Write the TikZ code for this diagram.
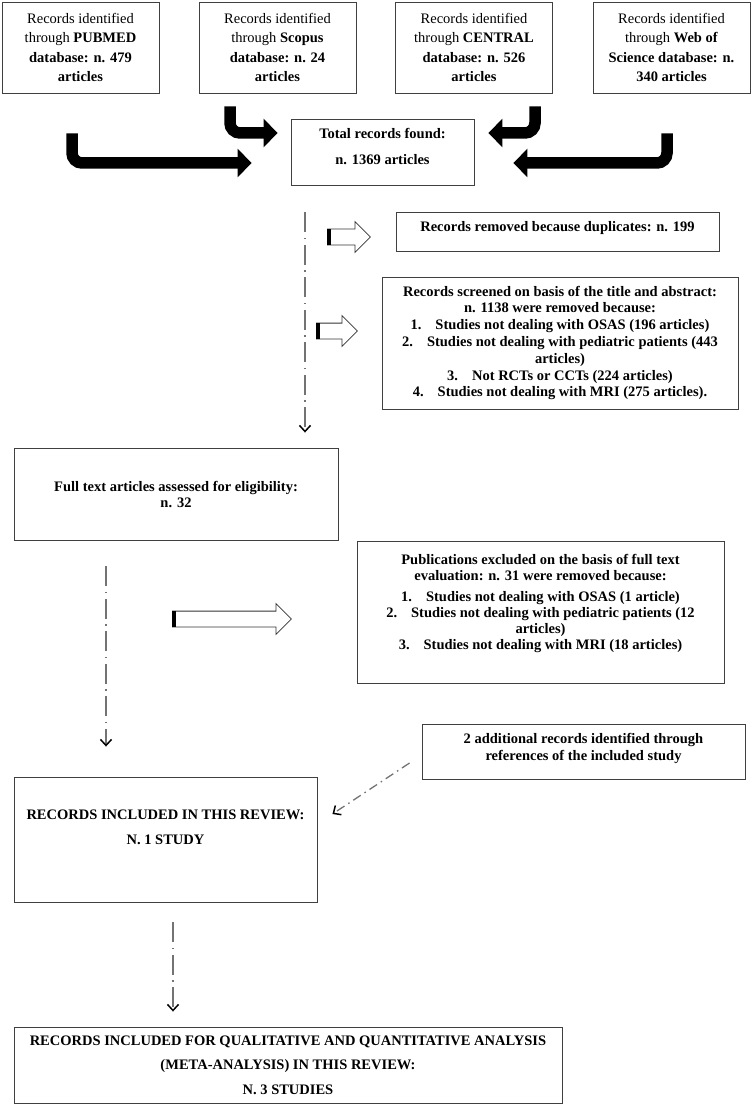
\documentclass[tikz,border=0pt]{standalone}
\usepackage{fontspec}
\setmainfont{Liberation Serif}
\usetikzlibrary{arrows.meta,positioning,shapes.arrows,calc}

\begin{document}
\begin{tikzpicture}[
  x=1pt, y=1pt,
  every node/.style={font=\fontsize{14.5}{16}\selectfont},
  box/.style={draw=black!75, line width=0.9pt, align=center, inner sep=2pt},
  src/.style={box, minimum width=157pt, minimum height=91pt, font=\fontsize{14.5}{19.5}\selectfont},
  bbox/.style={box, font=\bfseries\fontsize{14.5}{16}\selectfont},
  fatarrow/.style={line width=11.5pt, rounded corners=10pt, -{Triangle[length=14pt,width=28pt]}},
  flow/.style={draw=black!55, line width=1.4pt, dash pattern=on 20pt off 5.5pt on 1.5pt off 5.5pt,
    -{Straight Barb[length=6pt,width=11pt,color=black,line width=1.5pt]}},
  flowdiag/.style={flow, line width=1.3pt, dash pattern=on 9pt off 4.5pt on 1.5pt off 4.5pt},
  hollow/.style={single arrow, draw=black!80, fill=white, line width=0.8pt, inner xsep=0pt,
    inner ysep=7.5pt, single arrow head extend=7.5pt, anchor=tail}
]
\useasboundingbox (0,0) rectangle (752,-1107);

\node[src] (pubmed) at (80.5,-47.5) {Records identified\\ through \textbf{PUBMED}\\ \textbf{database: n. 479}\\ \textbf{articles}};
\node[src] (scopus) at (277.5,-47.5) {Records identified\\ through \textbf{Scopus}\\ \textbf{database: n. 24}\\ \textbf{articles}};
\node[src] (central) at (474,-47.5) {Records identified\\ through \textbf{CENTRAL}\\ \textbf{database: n. 526}\\ \textbf{articles}};
\node[src] (wos) at (671.5,-47.5) {Records identified\\ through \textbf{Web of}\\ \textbf{Science database: n.}\\ \textbf{340 articles}};

\node[bbox, minimum width=183pt, minimum height=66pt, text depth=12pt] (total) at (382.5,-152) {Total records found:\\[10pt] n. 1369 articles};

\node[bbox, minimum width=323pt, minimum height=39pt, text depth=10pt] (dupl) at (557.5,-231.5) {Records removed because duplicates: n. 199};
\node[bbox, minimum width=356pt, minimum height=132pt, font=\bfseries\fontsize{14.5}{16.8}\selectfont] (screen) at (560,-343) {Records screened on basis of the title and abstract:\\ n. 1138 were removed because:\\ 1.\hspace{14pt}Studies not dealing with OSAS (196 articles)\\ 2.\hspace{14pt}Studies not dealing with pediatric patients (443\\ articles)\\ 3.\hspace{14pt}Not RCTs or CCTs (224 articles)\\ 4.\hspace{14pt}Studies not dealing with MRI (275 articles).};

\node[bbox, minimum width=324pt, minimum height=92pt] (fulltext) at (176,-494) {Full text articles assessed for eligibility:\\ n. 32};
\node[bbox, minimum width=367pt, minimum height=142pt, text depth=20pt] (pubex) at (540.5,-612) {Publications excluded on the basis of full text\\ evaluation: n. 31 were removed because:\\[5pt] 1.\hspace{14pt}Studies not dealing with OSAS (1 article)\\ 2.\hspace{14pt}Studies not dealing with pediatric patients (12\\ articles)\\ 3.\hspace{14pt}Studies not dealing with MRI (18 articles)};

\node[bbox, minimum width=323pt, minimum height=55pt, text depth=10pt, font=\bfseries\fontsize{14.5}{17}\selectfont] (addl) at (583.5,-751.5) {2 additional records identified through\\ references of the included study};
\node[bbox, minimum width=303pt, minimum height=125pt, text depth=24pt] (incl) at (165.5,-839.5) {RECORDS INCLUDED IN THIS REVIEW:\\[9pt] N. 1 STUDY};
\node[bbox, minimum width=548pt, minimum height=76pt] (final) at (288,-1065) {RECORDS INCLUDED FOR QUALITATIVE AND QUANTITATIVE ANALYSIS\\[8.5pt] (META-ANALYSIS) IN THIS REVIEW:\\[8.5pt] N. 3 STUDIES};

\coordinate (pubTail) at ([shift={(-8.5,-40)}]pubmed.south);
\coordinate (pubTip) at ([shift={(-39,-11)}]total.west);
\coordinate (scoTail) at ([shift={(-47.5,-13)}]scopus.south);
\coordinate (scoTip) at ([shift={(-13,19)}]total.west);
\coordinate (cenTail) at ([shift={(61,-13)}]central.south);
\coordinate (cenTip) at ([shift={(14,19)}]total.east);
\coordinate (wosTail) at ([shift={(-4.5,-40)}]wos.south);
\coordinate (wosTip) at ([shift={(39,-11)}]total.east);

\draw[fatarrow] (pubTail) |- (pubTip);
\draw[fatarrow] (scoTail) |- (scoTip);
\draw[fatarrow] (cenTail) |- (cenTip);
\draw[fatarrow] (wosTail) |- (wosTip);

\coordinate (d1) at ([xshift=-77.5pt]total.south);
\coordinate (d2) at ([xshift=-70pt]fulltext.south);
\coordinate (d3) at ([xshift=7.5pt]incl.south);
\draw[flow, shorten <=27pt, shorten >=15pt] (d1) -- (d1 |- fulltext.north);
\draw[flow, shorten <=26pt, shorten >=30pt] (d2) -- (d2 |- incl.north);
\draw[flow, shorten <=20pt, shorten >=15pt] (d3) -- (d3 |- final.north);
\draw[flowdiag] ([shift={(-12,-11.5)}]addl.west) -- ([shift={(15,25.5)}]incl.east);

\node[hollow, minimum height=43pt] (h1) at (327,-237) {};
\node[hollow, minimum height=41pt] (h2) at (316,-331) {};
\node[hollow, minimum height=119pt] (h3) at (172,-619) {};
\foreach \a in {h1,h2,h3}
  \draw[line width=4pt] ([xshift=2pt]\a.before tail) -- ([xshift=2pt]\a.after tail);

\end{tikzpicture}
\end{document}
